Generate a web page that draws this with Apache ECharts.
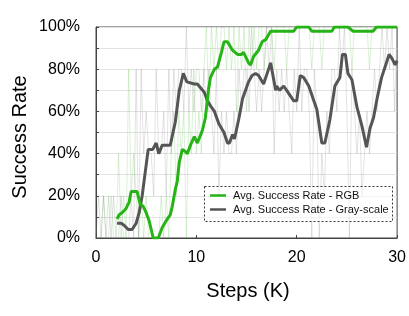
<!DOCTYPE html>
<html>
<head>
<meta charset="utf-8">
<script src="https://cdn.jsdelivr.net/npm/echarts@6/dist/echarts.min.js"></script>
<style>
html,body{margin:0;padding:0;background:#fff;}
#chart{width:409px;height:316px;}
</style>
</head>
<body>
<div id="chart"></div>
<script>
// Tick labels
var xTicks = [0, 10, 20, 30];
var yTicks = ['0%', '20%', '40%', '60%', '80%', '100%'];
var legendNames = ['Avg. Success Rate - RGB', 'Avg. Success Rate - Gray-scale'];

// Raw evaluation steps (K)
var rawSteps = [0,0.25,0.5,0.75,1,1.25,1.5,1.75,2,2.25,2.5,2.75,3,3.25,3.5,3.75,4,4.25,4.5,4.75,
5,5.25,5.5,5.75,6,6.25,6.5,6.75,7,7.25,7.5,7.75,8,8.25,8.5,8.75,9,9.25,9.5,9.75,
10,10.25,10.5,10.75,11,11.25,11.5,11.75,12,12.25,12.5,12.75,13,13.25,13.5,13.75,14,14.25,14.5,14.75,
15,15.25,15.5,15.75,16,16.25,16.5,16.75,17,17.25,17.5,17.75,18,18.25,18.5,18.75,19,19.25,19.5,19.75,
20,20.25,20.5,20.75,21,21.25,21.5,21.75,22,22.25,22.5,22.75,23,23.25,23.5,23.75,24,24.25,24.5,24.75,
25,25.25,25.5,25.75,26,26.25,26.5,26.75,27,27.25,27.5,27.75,28,28.25,28.5,28.75,29,29.25,29.5,29.75,30];

// Raw success rate - RGB (%)
var rgbRaw = [0,0,0,20,0,0,20,0,0,40,0,20,0,80,20,40,20,0,20,0,
20,0,0,0,0,0,20,0,20,0,40,60,20,60,40,60,0,60,40,80,
40,60,40,80,100,60,100,80,100,80,100,100,80,100,80,100,60,100,80,100,
60,100,80,100,80,100,100,80,100,100,100,80,100,100,100,100,80,100,100,100,
100,100,100,100,100,100,80,100,100,100,80,100,100,100,100,100,100,100,100,100,
100,100,80,100,100,100,100,100,100,80,100,100,100,100,100,100,100,100,100,100,100];

// Raw success rate - Gray-scale (%)
var grayRaw = [0,20,0,20,0,20,0,20,0,0,20,0,0,0,20,0,80,0,80,40,
60,40,40,20,80,40,40,60,20,80,40,80,60,80,80,60,100,60,80,60,
80,80,60,80,60,80,60,40,80,20,60,40,60,40,40,60,40,80,60,80,
80,60,100,80,60,80,60,80,100,80,100,40,80,60,80,60,80,60,40,80,
60,100,60,80,80,60,0,80,60,0,40,20,60,40,80,80,60,100,80,100,
60,0,80,60,40,60,20,40,60,40,60,80,60,80,100,80,100,80,100,60,100];

// Smoothed (average) success rate - RGB
var rgbAvgSteps = [2.1,2.3,2.6,3.0,3.3,3.5,4.1,4.4,4.7,5.0,5.3,5.7,6.2,6.6,7.1,7.4,7.6,7.9,8.1,8.3,8.6,8.9,9.1,9.5,9.8,10.1,10.6,10.9,11.2,11.4,11.8,12.1,12.5,12.75,13.1,13.6,14.1,14.5,14.7,15.2,15.4,15.7,16.2,16.55,16.9,17.4,19.7,20.0,21.2,21.5,23.5,23.75,25.1,25.6,27.6,27.95,30];
var rgbAvg = [9,11,12,14,17,22,22,16,15,12,8,0,0,5,9,11,15,23,27,36,42,41,40,45,48,45,51,57,70,76,80,81,88,93,93,89,87,87,88,83,82,86,89,93,94,98,98,100,100,98,98,100,100,98,98,100,100];

// Smoothed (average) success rate - Gray-scale
var grayAvgSteps = [2.1,2.5,2.8,3.2,3.6,4.0,4.3,4.6,4.9,5.2,5.65,6.0,6.25,6.6,7.4,7.9,8.3,8.7,9.05,9.8,10.1,10.45,10.8,11.1,11.5,11.8,12.25,12.75,13.1,13.3,13.6,13.8,14.25,14.6,15.2,15.55,15.9,16.2,16.7,17.4,17.9,18.0,18.3,18.7,19.0,19.7,20.0,20.35,20.7,21.2,21.7,22.0,22.5,22.8,23.3,23.8,24.3,24.55,24.85,25.1,25.5,26.0,26.5,26.95,27.3,27.65,28.0,28.45,28.8,29.2,29.5,29.8,30];
var grayAvg = [7,7,6,4,4,7,12,20,31,42,42,45,40,44,44,55,70,78,74,73,73,71,69,65,62,60,54,50,45,45,49,47,57,66,74,77,78,77,73,83,70,72,70,72,70,65,65,77,76,72,65,61,45,45,56,72,76,87,87,78,75,62,53,43,52,57,66,76,81,87,85,82,84];

function pairs(xs, ys){ return xs.map(function(x,i){ return [x, ys[i]]; }); }

var FONT = '"Liberation Sans", Arial, Helvetica, sans-serif';
var chart = echarts.init(document.getElementById('chart'), null, {renderer:'canvas'});
chart.setOption({
  animation: false,
  backgroundColor: '#fff',
  grid: {left: 96, right: 10, top: 27, bottom: 78, show: true, borderColor: '#444', borderWidth: 1, backgroundColor: 'transparent'},
  xAxis: {
    type: 'value', min: 0, max: 30, interval: 10,
    axisLine: {show: true, lineStyle: {color: '#444', width: 1}},
    axisTick: {show: true, inside: true, length: 3, lineStyle: {color: '#444'}},
    splitLine: {show: false},
    axisLabel: {color: '#000', fontSize: 16, fontFamily: FONT, margin: 12,
      formatter: function(v){ return xTicks.indexOf(v) >= 0 ? String(v) : ''; }}
  },
  yAxis: {
    type: 'value', min: 0, max: 100, interval: 10,
    axisLine: {show: true, lineStyle: {color: '#444', width: 1}},
    axisTick: {show: true, inside: true, length: 3, lineStyle: {color: '#444'}},
    splitLine: {show: true, lineStyle: {color: '#e2e2e2', width: 1}},
    axisLabel: {color: '#000', fontSize: 16, fontFamily: FONT, margin: 16,
      formatter: function(v){ return v % 20 === 0 ? yTicks[v/20] : ''; }}
  },
  legend: {
    data: legendNames,
    orient: 'vertical', left: 210, top: 190,
    icon: 'rect', itemWidth: 16, itemHeight: 2.5, itemGap: 3,
    textStyle: {fontSize: 11, fontFamily: FONT, color: '#111', padding: [0,0,0,2]},
    padding: 0
  },
  graphic: [
    {type: 'rect', shape: {x: 204.5, y: 186.5, width: 188, height: 35},
     style: {fill: 'rgba(255,255,255,0.6)', stroke: '#333', lineWidth: 1, lineDash: [2, 2]}, z: 2},
    {type: 'text', x: 20, y: 137, rotation: Math.PI/2,
     style: {text: 'Success Rate', fontSize: 20, fontFamily: FONT, fill: '#000', textAlign: 'center', textVerticalAlign: 'middle'}},
    {type: 'text', x: 248, y: 291,
     style: {text: 'Steps (K)', fontSize: 20, fontFamily: FONT, fill: '#000', textAlign: 'center', textVerticalAlign: 'middle'}}
  ],
  series: [
    {name: 'raw-rgb', type: 'line', data: pairs(rawSteps, rgbRaw), showSymbol: false, symbol: 'none',
     lineStyle: {color: 'rgba(90,190,70,0.28)', width: 0.8}, z: 1, silent: true},
    {name: 'raw-gray', type: 'line', data: pairs(rawSteps, grayRaw), showSymbol: false, symbol: 'none',
     lineStyle: {color: 'rgba(140,140,140,0.3)', width: 0.8}, z: 1, silent: true},
    {name: legendNames[1], type: 'line', data: pairs(grayAvgSteps, grayAvg), showSymbol: false, symbol: 'none',
     itemStyle: {color: '#555'}, lineStyle: {color: '#555', width: 3}, z: 3},
    {name: legendNames[0], type: 'line', data: pairs(rgbAvgSteps, rgbAvg), showSymbol: false, symbol: 'none',
     itemStyle: {color: '#25b316'}, lineStyle: {color: '#25b316', width: 3}, z: 4}
  ]
});
</script>
</body>
</html>
